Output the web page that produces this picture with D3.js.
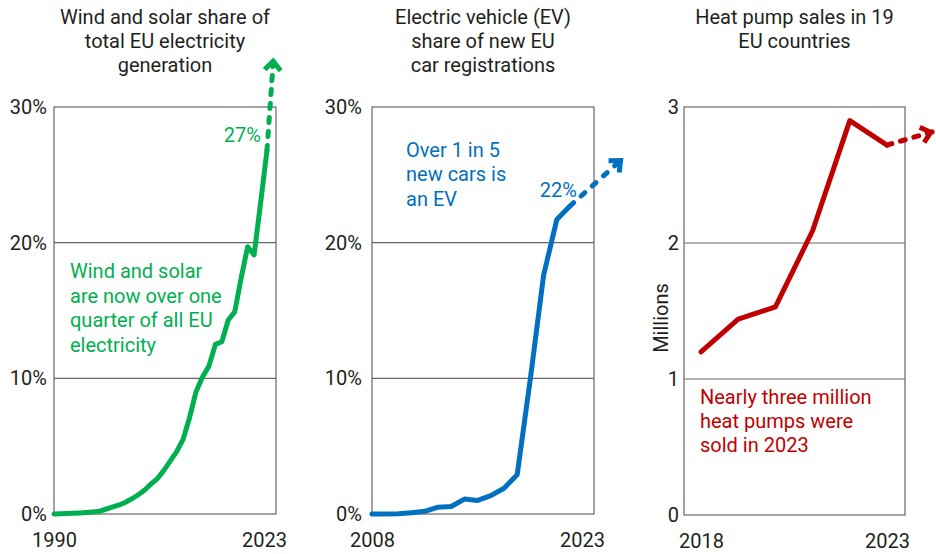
<!DOCTYPE html>
<html>
<head>
<meta charset="utf-8">
<script src="https://cdn.jsdelivr.net/npm/d3@7"></script>
<style>
  body { margin: 0; background: #fff; }
  text { font-family: Roboto, "Noto Sans", sans-serif; }
</style>
</head>
<body>
<div id="chart"></div>
<script>
// Wind and solar share of EU electricity generation (%)
const windYears = d3.range(1990, 2024);
const windShare = [0.0, 0.02, 0.04, 0.06, 0.08, 0.11, 0.15, 0.2, 0.35, 0.5, 0.65, 0.85, 1.1, 1.4,
  1.75, 2.2, 2.6, 3.2, 3.9, 4.6, 5.5, 7.1, 9.0, 10.1, 10.9, 12.5, 12.7, 14.3, 14.9, 17.4,
  19.7, 19.1, 22.9, 26.8];

// EV share of new EU car registrations (%)
const evYears = d3.range(2008, 2024);
const evShare = [0.0, 0.0, 0.02, 0.1, 0.2, 0.5, 0.55, 1.1, 1.0, 1.35, 1.9, 2.9, 10.0, 17.6, 21.7, 22.7];

// Heat pump sales in 19 EU countries (millions)
const hpYears = d3.range(2018, 2024);
const hpSales = [1.2, 1.44, 1.53, 2.09, 2.9, 2.72];

// dashed "trend continues" arrows: [year, value] from last point to tip
const windArrow = [[2023, 26.8], [2024, 33.6]];
const evArrow = [[2023, 22.7], [2027, 26.2]];
const hpArrow = [[2023, 2.72], [2024.25, 2.82]];

const pctTicks = [0, 10, 20, 30];
const hpTicks = [0, 1, 2, 3];

const W = 936, H = 554;
const textColor = "#231f20";
const gridColor = "#666";

const svg = d3.select("#chart").append("svg")
  .attr("width", W)
  .attr("height", H);

const defs = svg.append("defs");

function addMarker(id, color) {
  defs.append("marker")
    .attr("id", id)
    .attr("markerUnits", "userSpaceOnUse")
    .attr("viewBox", "-15 -15 30 30")
    .attr("markerWidth", 30)
    .attr("markerHeight", 30)
    .attr("refX", 0)
    .attr("refY", 0)
    .attr("orient", "auto")
    .append("path")
    .attr("d", "M-12,-8L-3,0L-12,8")
    .attr("fill", "none")
    .attr("stroke", color)
    .attr("stroke-width", 5)
    .attr("stroke-linejoin", "miter");
}

const panels = [
  {
    left: 54, right: 276, padL: 0, padR: 9, top: 107, bottom: 514,
    years: windYears, values: windShare, arrow: windArrow,
    yMax: 30, ticks: pctTicks, fmt: (d) => d + "%", tickGap: 7,
    color: "#00b050", dash: "5,9", markerId: "arrowGreen",
    title: ["Wind and solar share of", "total EU electricity", "generation"],
    note: ["Wind and solar", "are now over one", "quarter of all EU", "electricity"],
    noteX: 16, noteY: 171, noteStep: 24.7,
    endLabel: "27%", endDx: -6, endDy: -8,
    lastLabelDx: -3,
  },
  {
    left: 372, right: 594, padL: 0, padR: 24, top: 107, bottom: 514,
    years: evYears, values: evShare, arrow: evArrow,
    yMax: 30, ticks: pctTicks, fmt: (d) => d + "%", tickGap: 10,
    color: "#0070c0", dash: "5,10", markerId: "arrowBlue",
    title: ["Electric vehicle (EV)", "share of new EU", "car registrations"],
    note: ["Over 1 in 5", "new cars is", "an EV"],
    noteX: 34, noteY: 50, noteStep: 24.3,
    endLabel: "22%", endDx: 7, endDy: -9,
    lastLabelDx: 12,
  },
  {
    left: 684, right: 905, padL: 17, padR: 18, top: 107, bottom: 515,
    years: hpYears, values: hpSales, arrow: hpArrow,
    yMax: 3, ticks: hpTicks, fmt: (d) => d, tickGap: 5,
    color: "#c00000", dash: "5,9", markerId: "arrowRed",
    title: ["Heat pump sales in 19", "EU countries"],
    note: ["Nearly three million", "heat pumps were", "sold in 2023"],
    noteX: 16, noteY: 297, noteStep: 24,
    yLabel: "Millions",
    lastLabelDx: 0,
  },
];

panels.forEach((p) => {
  addMarker(p.markerId, p.color);

  const x = d3.scaleLinear()
    .domain([p.years[0], p.years[p.years.length - 1]])
    .range([p.left + p.padL, p.right - p.padR]);
  const y = d3.scaleLinear()
    .domain([0, p.yMax])
    .range([p.bottom, p.top]);

  const g = svg.append("g");
  const cx = (p.left + p.right) / 2;

  // title
  g.append("text")
    .attr("text-anchor", "middle")
    .attr("fill", textColor)
    .style("font-size", "20px")
    .selectAll("tspan")
    .data(p.title)
    .join("tspan")
    .attr("x", cx)
    .attr("y", (d, i) => 24 + i * 24)
    .text((d) => d);

  // gridlines
  g.append("g")
    .selectAll("line")
    .data(p.ticks.slice(1, -1))
    .join("line")
    .attr("x1", p.left)
    .attr("x2", p.right)
    .attr("y1", (d) => y(d))
    .attr("y2", (d) => y(d))
    .attr("stroke", gridColor)
    .attr("stroke-width", 1.2);

  // frame
  g.append("rect")
    .attr("x", p.left)
    .attr("y", p.top)
    .attr("width", p.right - p.left)
    .attr("height", p.bottom - p.top)
    .attr("fill", "none")
    .attr("stroke", gridColor)
    .attr("stroke-width", 1.2);

  // y axis labels
  const yAxis = g.append("g")
    .attr("transform", `translate(${p.left},0)`)
    .call(d3.axisLeft(y).tickValues(p.ticks).tickFormat(p.fmt).tickSize(0).tickPadding(p.tickGap));
  yAxis.select(".domain").remove();
  yAxis.selectAll("text")
    .attr("fill", textColor)
    .style("font-size", "20px")
    .style("font-family", "Roboto, 'Noto Sans', sans-serif");

  // x axis labels (first and last year only)
  const first = p.years[0], last = p.years[p.years.length - 1];
  const xAxis = g.append("g")
    .attr("transform", `translate(0,${p.bottom})`)
    .call(d3.axisBottom(x).tickValues([first, last]).tickFormat(d3.format("d")).tickSize(0).tickPadding(19));
  xAxis.select(".domain").remove();
  xAxis.selectAll("text")
    .attr("fill", textColor)
    .style("font-size", "20px")
    .style("font-family", "Roboto, 'Noto Sans', sans-serif")
    .attr("dx", (d) => (d === last ? p.lastLabelDx : 0));

  // dashed trend arrow
  g.append("path")
    .datum(p.arrow)
    .attr("fill", "none")
    .attr("stroke", p.color)
    .attr("stroke-width", 5)
    .attr("stroke-linecap", "round")
    .attr("stroke-dasharray", p.dash)
    .attr("marker-end", `url(#${p.markerId})`)
    .attr("d", d3.line().x((d) => x(d[0])).y((d) => y(d[1])));

  // main line
  const line = d3.line()
    .x((d, i) => x(p.years[i]))
    .y((d) => y(d));
  g.append("path")
    .datum(p.values)
    .attr("fill", "none")
    .attr("stroke", p.color)
    .attr("stroke-width", 5)
    .attr("stroke-linejoin", "round")
    .attr("stroke-linecap", "round")
    .attr("d", line);

  // end value label
  if (p.endLabel) {
    g.append("text")
      .attr("x", x(last) + p.endDx)
      .attr("y", y(p.values[p.values.length - 1]) + p.endDy)
      .attr("text-anchor", "end")
      .attr("fill", p.color)
      .style("font-size", "20px")
      .text(p.endLabel);
  }

  // annotation
  g.append("text")
    .attr("fill", p.color)
    .style("font-size", "20px")
    .selectAll("tspan")
    .data(p.note)
    .join("tspan")
    .attr("x", p.left + p.noteX)
    .attr("y", (d, i) => p.top + p.noteY + i * p.noteStep)
    .text((d) => d);

  // y axis title
  if (p.yLabel) {
    g.append("text")
      .attr("transform", `translate(${p.left - 16},${(p.top + p.bottom) / 2 + 7}) rotate(-90)`)
      .attr("text-anchor", "middle")
      .attr("fill", textColor)
      .style("font-size", "20px")
      .text(p.yLabel);
  }
});
</script>
</body>
</html>
